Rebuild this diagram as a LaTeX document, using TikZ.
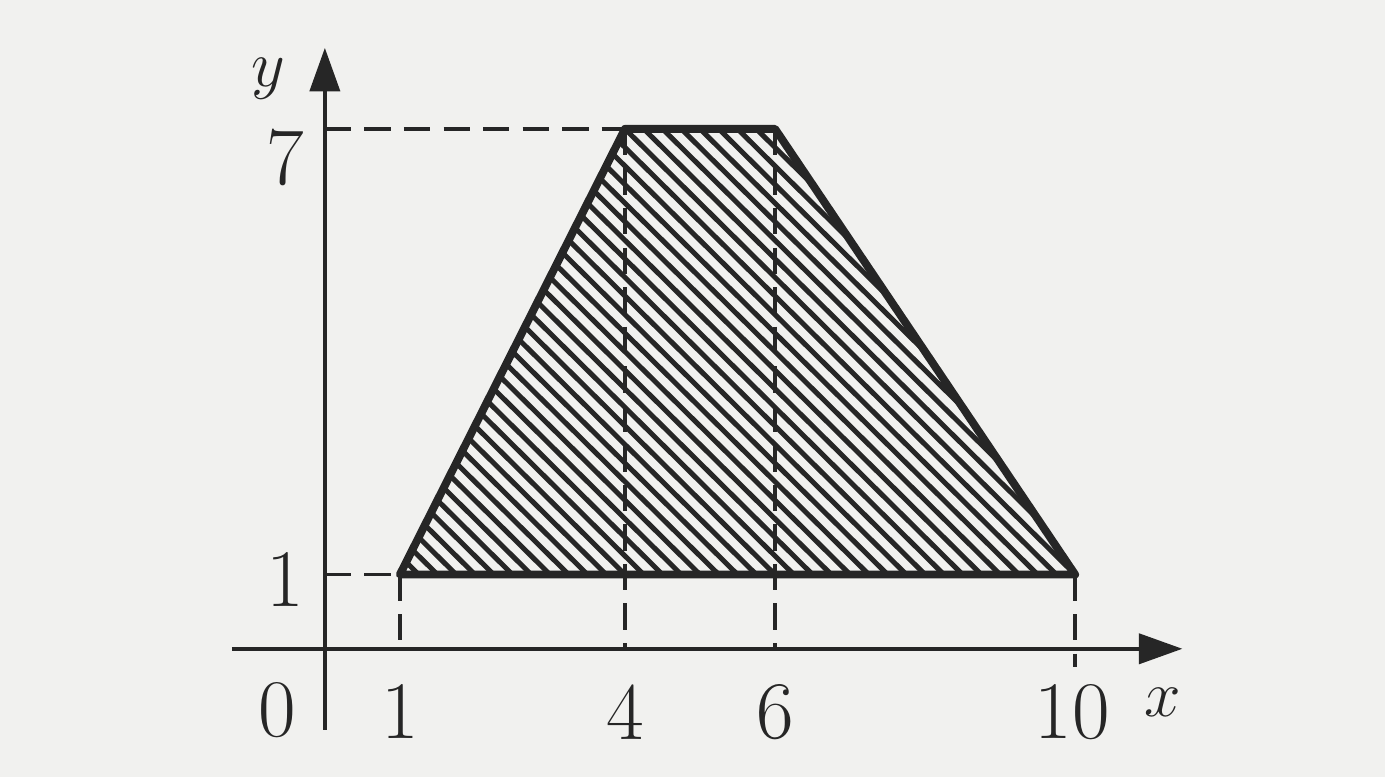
\documentclass[tikz,border=0pt]{standalone}
\usepackage{tikz}
\usetikzlibrary{arrows.meta, calc, positioning}
\definecolor{Ink}  {HTML}{262626}
\definecolor{Paper}{HTML}{F1F1EF}

\begin{document}
\begin{tikzpicture}[x=1cm, y=0.99cm,
    axis/.style={Ink, line width=1.5pt, -{Triangle[length=5.8mm, width=4mm]}},
    guide/.style={Ink, line width=1.5pt, dash pattern=on 10pt off 5pt},
    rim/.style={Ink, line width=3pt, line join=round},
    hatch/.style={Ink, line width=1.9pt},
    lbl/.style={Ink, font=\fontsize{31}{36}\selectfont}]
  \fill[Paper] (-4.33,-1.723) rectangle (14.13,8.735);
  \useasboundingbox (-4.33,-1.723) rectangle (14.13,8.735);
  % Corners of the region
  \coordinate (A) at (1,1);
  \coordinate (B) at (4,7);
  \coordinate (C) at (6,7);
  \coordinate (D) at (10,1);
  % Hatching
  \begin{scope}
    \clip (A) -- (B) -- (C) -- (D) -- cycle;
    \foreach \c in {2,2.25,...,13.5}
      \draw[hatch] (\c-8,8) -- (\c+1,-1);
  \end{scope}
  % Axes
  \draw[axis] (-1.24,0) -- (11.43,0);
  \draw[axis] (0,-1.09) -- (0,8.09);
  % Guide lines
  \draw[guide] (0,7) -- (B);
  \draw[guide] (0,1) -- (A);
  \draw[guide] (A) -- (1,0);
  \draw[guide] (B) -- (4,0);
  \draw[guide] (C) -- (6,0);
  \draw[guide] (D) -- (10,-0.25);
  % Outline
  \draw[rim] (A) -- (B) -- (C) -- (D) -- cycle;
  % Labels
  \node[lbl] (ylab)  at (-0.76,7.68)  {$y$};
  \node[lbl] (ysev)  at (-0.53,6.61)  {7};
  \node[lbl] (yone)  at (-0.53,0.93)  {1};
  \node[lbl] (orig)  at (-0.64,-0.83) {0};
  \node[lbl] (xone)  at (1,-0.85)     {1};
  \node[lbl] (xfour) at (4,-0.85)     {4};
  \node[lbl] (xsix)  at (6,-0.85)     {6};
  \node[lbl] (xten)  at (9.96,-0.85)  {10};
  \node[lbl] (xlab)  at (11.17,-0.72) {$x$};
\end{tikzpicture}
\end{document}
